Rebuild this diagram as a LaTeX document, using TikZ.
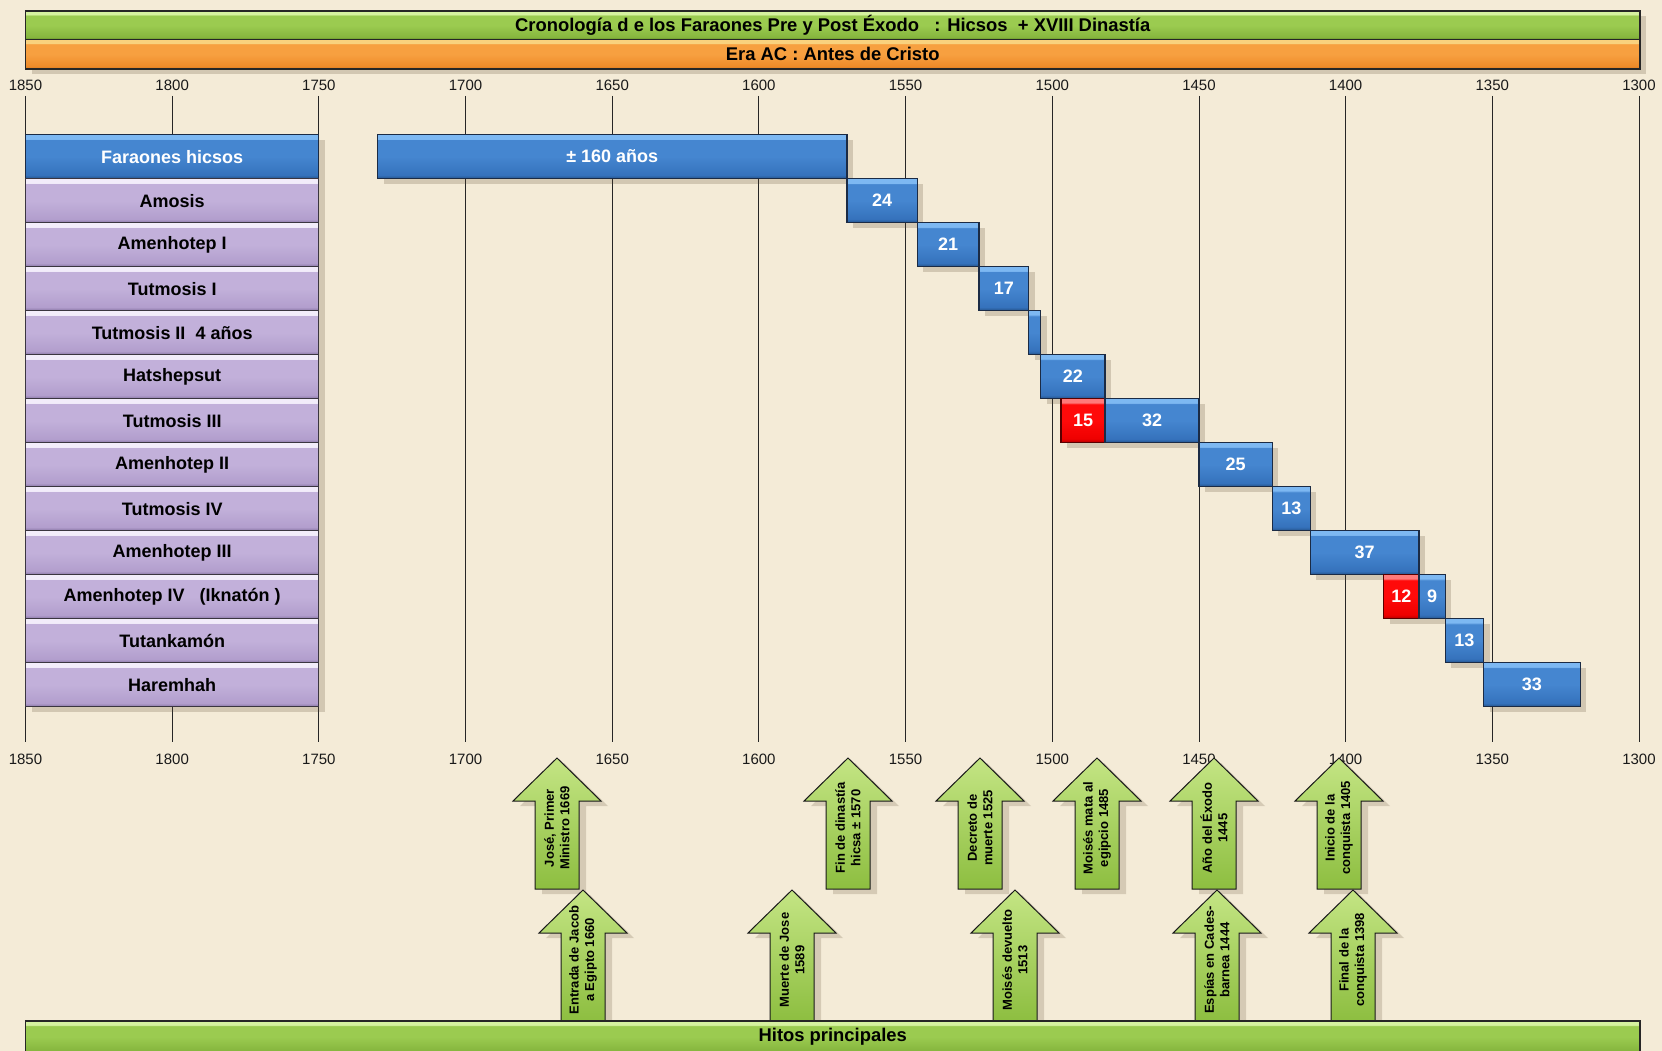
\documentclass[tikz,border=0pt]{standalone}
\usepackage{fontspec}
\setmainfont{Liberation Sans}
\usetikzlibrary{shadows}

\definecolor{bgc}{HTML}{F4EBD7}
\definecolor{bluetop}{HTML}{7DB8F2}
\definecolor{bluemid}{HTML}{4586D0}
\definecolor{bluedeep}{HTML}{3572BC}
\definecolor{bluebot}{HTML}{24528A}
\definecolor{blueline}{HTML}{1B2B45}
\definecolor{lavtop}{HTML}{F2ECFA}
\definecolor{lavmid}{HTML}{C2B0DA}
\definecolor{lavdeep}{HTML}{B29ECD}
\definecolor{lavbot}{HTML}{8A78A6}
\definecolor{lavline}{HTML}{3A3540}
\definecolor{redtop}{HTML}{FF7A7A}
\definecolor{redmid}{HTML}{FF0A0A}
\definecolor{reddeep}{HTML}{EE0000}
\definecolor{redbot}{HTML}{AA0000}
\definecolor{grntop}{HTML}{D6F2A0}
\definecolor{grnmid}{HTML}{9BCB50}
\definecolor{grndeep}{HTML}{86B63E}
\definecolor{grnbot}{HTML}{5E8A24}
\definecolor{orgtop}{HTML}{F9D27E}
\definecolor{orgmid}{HTML}{F7A040}
\definecolor{orgdeep}{HTML}{EE8A28}
\definecolor{orgbot}{HTML}{C06A18}
\definecolor{arrtop}{HTML}{C4E584}
\definecolor{arrbot}{HTML}{8DBE40}
\definecolor{shadowc}{HTML}{5A4A30}

\pgfdeclareverticalshading{bevblue}{100bp}{color(0bp)=(bluebot); color(25bp)=(bluebot); color(29bp)=(bluedeep); color(50bp)=(bluemid); color(69bp)=(bluemid); color(70bp)=(bluetop); color(75bp)=(bluetop); color(100bp)=(bluetop)}
\pgfdeclareverticalshading{bevlav}{100bp}{color(0bp)=(lavbot); color(25bp)=(lavbot); color(29bp)=(lavdeep); color(50bp)=(lavmid); color(69bp)=(lavmid); color(70bp)=(lavtop); color(75bp)=(lavtop); color(100bp)=(lavtop)}
\pgfdeclareverticalshading{bevred}{100bp}{color(0bp)=(redbot); color(25bp)=(redbot); color(29bp)=(reddeep); color(50bp)=(redmid); color(69bp)=(redmid); color(70bp)=(redtop); color(75bp)=(redtop); color(100bp)=(redtop)}
\pgfdeclareverticalshading{bevgrn}{100bp}{color(0bp)=(grnbot); color(25bp)=(grnbot); color(29bp)=(grndeep); color(50bp)=(grnmid); color(67bp)=(grnmid); color(69bp)=(grntop); color(75bp)=(grntop); color(100bp)=(grntop)}
\pgfdeclareverticalshading{bevorg}{100bp}{color(0bp)=(orgbot); color(25bp)=(orgbot); color(29bp)=(orgdeep); color(50bp)=(orgmid); color(67bp)=(orgmid); color(69bp)=(orgtop); color(75bp)=(orgtop); color(100bp)=(orgtop)}

\newcommand\arrowpath[2]{(#1,#2) -- ({#1+44},{#2+43}) -- ({#1+22},{#2+43}) -- ({#1+22},{#2+131}) -- ({#1-22},{#2+131}) -- ({#1-22},{#2+43}) -- ({#1-44},{#2+43}) -- cycle}
\newcommand\reign[6]{%
  \node[#5, boxshadow, minimum width={(#2-#3)*2.9336pt}, minimum height=44pt, anchor=north west] (#1) at ({25.5+(1850-#2)*2.9336},{134.6+44*#4}) {#6};}
\newcommand\milestone[4]{%
  \fill[shadowc, opacity=0.2, shift={(7,5)}] \arrowpath{#2}{#3};
  \path[mileshape] \arrowpath{#2}{#3};
  \node[miletext] (#1) at (#2,{#3+70}) {#4};}

\tikzset{
  base/.style={draw, line width=1.2pt, inner sep=0pt, outer sep=0pt, shade,
    font=\fontsize{18}{20}\selectfont\bfseries},
  hicsobox/.style={base, draw=blueline, shading=bevblue, text=white},
  kingbox/.style={base, draw=lavline, shading=bevlav, text=black},
  reignbar/.style={base, draw=blueline, shading=bevblue, text=white},
  redbar/.style={base, draw=red!35!black, shading=bevred, text=white},
  titlebar/.style={base, draw=black!85, shading=bevgrn, text=black, font=\fontsize{18.4}{20}\selectfont\bfseries},
  erabar/.style={base, draw=black!85, shading=bevorg, text=black, font=\fontsize{18.4}{20}\selectfont\bfseries},
  yearlbl/.style={font=\fontsize{15}{17}\selectfont, text=black!90, inner sep=0pt},
  gridline/.style={line width=0.9pt, draw=black!85},
  mileshape/.style={draw=black!90, line width=1pt, top color=arrtop, bottom color=arrbot},
  miletext/.style={font=\fontsize{13}{15.5}\selectfont\bfseries, align=center, rotate=90, inner sep=0pt},
  boxshadow/.style={drop shadow={shadow xshift=6pt, shadow yshift=-5pt, opacity=0.22, fill=shadowc}}
}

\begin{document}
\begin{tikzpicture}[x=1pt, y=-1pt]
\useasboundingbox (0,0) rectangle (1662,1051);
\fill[bgc] (0,0) rectangle (1662,1051);

% grid lines and year labels
\foreach \yr in {1850,1800,...,1300}{
  \draw[gridline] ({25.5+(1850-\yr)*2.9336},96) -- ({25.5+(1850-\yr)*2.9336},742);
  \node[yearlbl] (top\yr) at ({25.5+(1850-\yr)*2.9336},85) {\yr};
  \node[yearlbl] (bot\yr) at ({25.5+(1850-\yr)*2.9336},759) {\yr};
}

% title bars
\node[titlebar, boxshadow, minimum width=1614.5pt, minimum height=28.5pt, anchor=north west] (title) at (25.5,11)
  {Cronología d e los Faraones Pre y Post Éxodo\ \ \ : Hicsos\ \ + XVIII Dinastía};
\node[erabar, boxshadow, minimum width=1614.5pt, minimum height=29.5pt, anchor=north west] (era) at (25.5,39.5)
  {Era AC : Antes de Cristo};

% left column
\reign{k0}{1850}{1750}{0}{hicsobox}{Faraones hicsos}
\reign{k1}{1850}{1750}{1}{kingbox}{Amosis}
\reign{k2}{1850}{1750}{2}{kingbox}{Amenhotep I}
\reign{k3}{1850}{1750}{3}{kingbox}{Tutmosis I}
\reign{k4}{1850}{1750}{4}{kingbox}{Tutmosis II\ \ 4 años}
\reign{k5}{1850}{1750}{5}{kingbox}{Hatshepsut}
\reign{k6}{1850}{1750}{6}{kingbox}{Tutmosis III}
\reign{k7}{1850}{1750}{7}{kingbox}{Amenhotep II}
\reign{k8}{1850}{1750}{8}{kingbox}{Tutmosis IV}
\reign{k9}{1850}{1750}{9}{kingbox}{Amenhotep III}
\reign{k10}{1850}{1750}{10}{kingbox}{Amenhotep IV\ \ \ (Iknatón )}
\reign{k11}{1850}{1750}{11}{kingbox}{Tutankamón}
\reign{k12}{1850}{1750}{12}{kingbox}{Haremhah}

% reign bars
\reign{r0}{1730}{1570}{0}{reignbar}{± 160 años}
\reign{r1}{1570}{1546}{1}{reignbar}{24}
\reign{r2}{1546}{1525}{2}{reignbar}{21}
\reign{r3}{1525}{1508}{3}{reignbar}{17}
\reign{r4}{1508}{1504}{4}{reignbar}{}
\reign{r5}{1504}{1482}{5}{reignbar}{22}
\reign{r6a}{1497}{1482}{6}{redbar}{15}
\reign{r6b}{1482}{1450}{6}{reignbar}{32}
\reign{r7}{1450}{1425}{7}{reignbar}{25}
\reign{r8}{1425}{1412}{8}{reignbar}{13}
\reign{r9}{1412}{1375}{9}{reignbar}{37}
\reign{r10a}{1387}{1375}{10}{redbar}{12}
\reign{r10b}{1375}{1366}{10}{reignbar}{9}
\reign{r11}{1366}{1353}{11}{reignbar}{13}
\reign{r12}{1353}{1320}{12}{reignbar}{33}

% milestone arrows, top row
\milestone{m1}{557}{758}{José, Primer\\Ministro 1669}
\milestone{m2}{848}{758}{Fin de dinastía\\hicsa ± 1570}
\milestone{m3}{980}{758}{Decreto de\\muerte 1525}
\milestone{m4}{1097}{758}{Moisés mata al\\egipcio 1485}
\milestone{m5}{1214}{758}{Año del Éxodo\\1445}
\milestone{m6}{1339}{758}{Inicio de la\\conquista 1405}
% bottom row
\milestone{n1}{583}{890}{Entrada de Jacob\\a Egipto 1660}
\milestone{n2}{792}{890}{Muerte de Jose\\1589}
\milestone{n3}{1015}{890}{Moisés devuelto\\1513}
\milestone{n4}{1217}{890}{Espías en Cades-\\barnea 1444}
\milestone{n5}{1353}{890}{Final de la\\conquista 1398}

% bottom bar
\node[titlebar, minimum width=1614.5pt, minimum height=32pt, anchor=north west] (hitos) at (25.5,1021)
  {\raisebox{2pt}{Hitos principales}};
\end{tikzpicture}
\end{document}
